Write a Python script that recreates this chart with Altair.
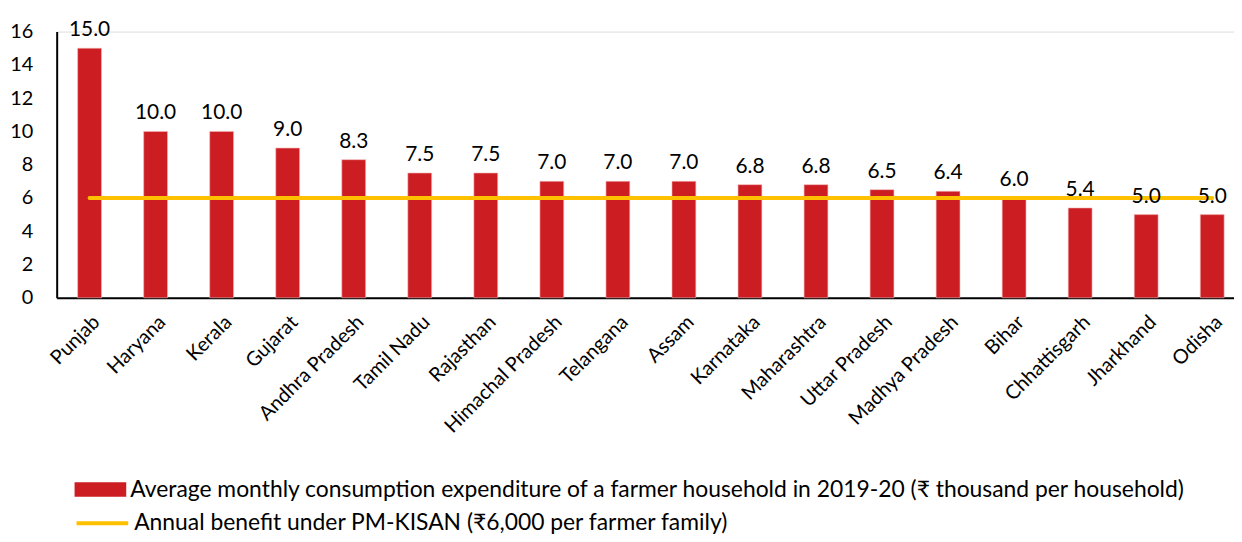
import altair as alt
import pandas as pd

states = ["Punjab", "Haryana", "Kerala", "Gujarat", "Andhra Pradesh", "Tamil Nadu",
          "Rajasthan", "Himachal Pradesh", "Telangana", "Assam", "Karnataka",
          "Maharashtra", "Uttar Pradesh", "Madhya Pradesh", "Bihar", "Chhattisgarh",
          "Jharkhand", "Odisha"]
expenditure = [15.0, 10.0, 10.0, 9.0, 8.3, 7.5, 7.5, 7.0, 7.0, 7.0, 6.8, 6.8, 6.5, 6.4,
               6.0, 5.4, 5.0, 5.0]
benefit = 6.0
y_ticks = [0, 2, 4, 6, 8, 10, 12, 14, 16]
bar_name = "Average monthly consumption expenditure of a farmer household in 2019-20 (₹ thousand per household)"
line_name = "Annual benefit under PM-KISAN (₹6,000 per farmer family)"

bars_df = pd.DataFrame({"state": states, "value": expenditure, "series": bar_name})
line_df = pd.DataFrame({"state": [states[0], states[-1]], "value": [benefit, benefit],
                        "series": line_name})

FONT = "Lato"
RED = "#CC1D23"
YELLOW = "#FFC000"

x_enc = alt.X("state:N", sort=states, title=None,
              scale=alt.Scale(domain=states, paddingInner=0.639, paddingOuter=0.2335,
                              align=0.68, round=False),
              axis=alt.Axis(labelAngle=-45, labelAlign="right", labelBaseline="top",
                            labelFontSize=20, labelColor="black", ticks=False,
                            labelPadding=14, domainColor="black", domainWidth=2,
                            labelFont=FONT, labelOverlap=False))
y_enc = alt.Y("value:Q", title=None,
              scale=alt.Scale(domain=[0, 16], nice=False, zero=True),
              axis=alt.Axis(values=y_ticks, tickCount=9, grid=False, ticks=False,
                            labelFontSize=20, labelColor="black", labelPadding=24,
                            domainColor="black", domainWidth=2, labelFont=FONT,
                            labelOverlap=False, labelBound=False))

bars = alt.Chart(bars_df).mark_bar(stroke="#F4B6B6", strokeWidth=0.6).encode(
    x=x_enc, y=y_enc,
    fill=alt.Fill("series:N", scale=alt.Scale(domain=[bar_name], range=[RED]),
                  legend=alt.Legend(title=None, orient="none", legendX=18, legendY=435,
                                    symbolType="M-1,-0.28H1V0.28H-1Z", symbolSize=2704,
                                    symbolStrokeWidth=0, labelFontSize=23, labelLimit=1300,
                                    labelColor="black", labelOffset=4, labelFont=FONT))
)

labels = alt.Chart(bars_df).mark_text(baseline="bottom", dy=-8, fontSize=21, font=FONT,
                                      color="black").encode(
    x=x_enc, y=y_enc, text=alt.Text("value:Q", format=".1f")
)

line = alt.Chart(line_df).mark_line(strokeWidth=4, strokeCap="round").encode(
    x=x_enc, y=y_enc,
    stroke=alt.Stroke("series:N", scale=alt.Scale(domain=[line_name], range=[YELLOW]),
                      legend=alt.Legend(title=None, orient="none", legendX=18, legendY=467,
                                        symbolType="stroke", symbolSize=2704,
                                        symbolStrokeWidth=4, labelFontSize=23,
                                        labelLimit=1300, labelColor="black", labelOffset=4,
                                        labelFont=FONT))
)

chart = alt.layer(bars, line, labels).resolve_scale(
    fill="independent", stroke="independent"
).properties(
    width=1185, height=268,
    autosize=alt.AutoSizeParams(type="none"),
    padding={"left": 49, "top": 22, "right": 0, "bottom": 236},
).configure_view(stroke=None).configure_axis(labelOverlap=False).configure(font=FONT)

chart.save("out.html", embed_options={"renderer": "svg", "actions": False})
